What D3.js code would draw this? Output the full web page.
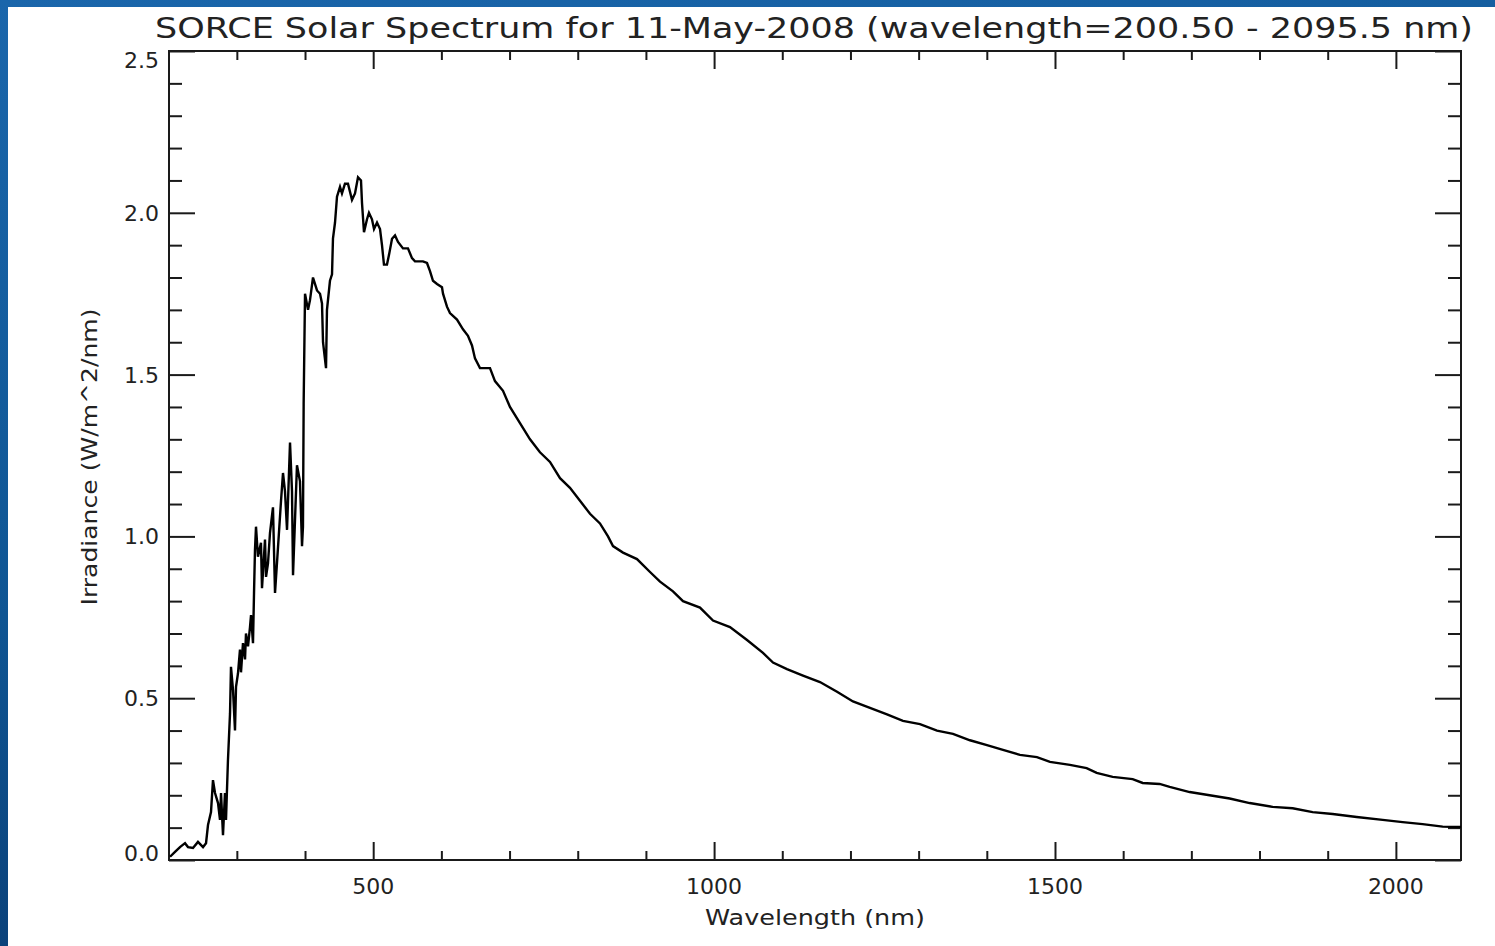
<!DOCTYPE html>
<html>
<head>
<meta charset="utf-8">
<script src="https://cdn.jsdelivr.net/npm/d3@7"></script>
<style>
  html, body { margin: 0; padding: 0; background: #0d5596; }
  #chart { width: 1495px; height: 946px; }
  text { font-family: "DejaVu Sans", sans-serif; fill: #222; }
</style>
</head>
<body>
<div id="chart"></div>
<script>
// spectrum (nm, W/m^2/nm)
const wavelength = [
  202.0, 209.3, 216.6, 224.0, 228.4, 235.7, 243.0, 250.4, 254.8, 257.7,
  262.1, 265.0, 268.0, 272.4, 275.3, 276.8, 279.7, 282.6, 284.1, 287.0,
  290.0, 291.4, 294.4, 297.3, 298.8, 301.7, 304.6, 306.1, 309.0, 312.0,
  313.4, 316.4, 319.3, 320.8, 323.7, 325.2, 326.6, 328.1, 331.0, 335.4,
  336.9, 341.3, 342.8, 345.7, 348.6, 353.0, 356.0, 360.4, 364.8, 367.7,
  370.6, 373.6, 378.0, 380.9, 382.4, 388.2, 392.6, 395.6, 397.0, 398.0,
  400.0, 404.4, 407.3, 411.7, 417.6, 422.0, 424.9, 426.4, 430.8, 432.2,
  436.6, 439.6, 441.0, 444.0, 446.9, 451.3, 454.2, 458.6, 463.0, 468.9,
  473.3, 477.7, 482.1, 483.6, 486.5, 490.9, 493.8, 498.2, 501.2, 505.6,
  510.0, 512.9, 515.8, 520.2, 523.2, 527.6, 532.0, 536.4, 543.7, 551.0,
  556.9, 561.3, 573.0, 578.9, 583.3, 587.7, 593.6, 600.9, 602.4, 608.2,
  612.6, 622.9, 631.7, 639.0, 644.9, 649.3, 656.6, 671.3, 678.6, 690.4,
  700.6, 715.3, 730.0, 744.6, 759.3, 774.0, 788.6, 803.3, 818.0, 832.6,
  844.4, 851.7, 866.4, 886.9, 906.0, 920.7, 939.7, 954.4, 979.3, 998.4,
  1023.3, 1048.3, 1071.7, 1086.4, 1106.9, 1130.4, 1155.3, 1180.3, 1203.7, 1228.6,
  1253.6, 1277.0, 1302.0, 1326.9, 1350.4, 1375.3, 1400.2, 1423.7, 1448.6, 1473.5,
  1492.6, 1521.9, 1546.4, 1561.1, 1584.6, 1613.9, 1628.6, 1653.5, 1668.2, 1697.5,
  1726.8, 1756.2, 1785.5, 1819.3, 1848.6, 1877.9, 1907.3, 1942.5, 1980.6, 2009.9,
  2039.2, 2068.6, 2095.5
];
const irradiance = [
  0.010, 0.025, 0.040, 0.052, 0.040, 0.037, 0.056, 0.040, 0.052, 0.108,
  0.148, 0.247, 0.207, 0.176, 0.124, 0.207, 0.077, 0.207, 0.124, 0.310,
  0.453, 0.597, 0.525, 0.400, 0.535, 0.577, 0.650, 0.580, 0.670, 0.620,
  0.700, 0.660, 0.720, 0.757, 0.670, 0.825, 0.958, 1.030, 0.937, 0.980,
  0.840, 0.990, 0.875, 0.917, 1.010, 1.090, 0.825, 0.967, 1.110, 1.196,
  1.140, 1.020, 1.290, 1.140, 0.880, 1.220, 1.170, 0.970, 1.030, 1.410,
  1.750, 1.700, 1.730, 1.800, 1.760, 1.750, 1.720, 1.600, 1.520, 1.700,
  1.790, 1.810, 1.920, 1.970, 2.050, 2.080, 2.060, 2.090, 2.090, 2.040,
  2.060, 2.110, 2.100, 2.030, 1.940, 1.980, 2.000, 1.980, 1.950, 1.970,
  1.950, 1.900, 1.840, 1.840, 1.870, 1.920, 1.930, 1.910, 1.890, 1.890,
  1.860, 1.850, 1.850, 1.845, 1.820, 1.790, 1.780, 1.770, 1.750, 1.710,
  1.690, 1.670, 1.640, 1.620, 1.590, 1.550, 1.520, 1.520, 1.480, 1.450,
  1.400, 1.350, 1.300, 1.260, 1.230, 1.180, 1.150, 1.110, 1.070, 1.040,
  1.000, 0.970, 0.950, 0.930, 0.890, 0.860, 0.830, 0.800, 0.780, 0.740,
  0.720, 0.680, 0.640, 0.610, 0.590, 0.570, 0.550, 0.520, 0.490, 0.470,
  0.450, 0.430, 0.420, 0.400, 0.390, 0.370, 0.355, 0.340, 0.325, 0.318,
  0.303, 0.294, 0.284, 0.269, 0.257, 0.250, 0.238, 0.235, 0.226, 0.210,
  0.200, 0.190, 0.176, 0.164, 0.160, 0.148, 0.142, 0.133, 0.124, 0.117,
  0.111, 0.103, 0.102
];

const xMajor = [500, 1000, 1500, 2000];
const xMinor = [300, 400, 600, 700, 800, 900, 1100, 1200, 1300, 1400, 1600, 1700, 1800, 1900];
const yMajor = [0.0, 0.5, 1.0, 1.5, 2.0, 2.5];
const yMinor = [0.1, 0.2, 0.3, 0.4, 0.6, 0.7, 0.8, 0.9, 1.1, 1.2, 1.3, 1.4, 1.6, 1.7, 1.8, 1.9, 2.1, 2.2, 2.3, 2.4];

const data = wavelength.map((w, i) => ({w: w, v: irradiance[i]}));

// set the dimensions and margins of the graph
const W = 1495, H = 946;
const margin = {top: 51, right: 34, bottom: 86, left: 169},
    width = W - margin.left - margin.right,
    height = H - margin.top - margin.bottom;

const root = d3.select("#chart")
  .append("svg")
    .attr("width", W)
    .attr("height", H);

// blue frame + white page
const grad = root.append("defs").append("linearGradient")
    .attr("id", "bg").attr("x1", 0).attr("y1", 0).attr("x2", 0.3).attr("y2", 1);
grad.append("stop").attr("offset", "0%").attr("stop-color", "#1a66ab");
grad.append("stop").attr("offset", "60%").attr("stop-color", "#0f5593");
grad.append("stop").attr("offset", "100%").attr("stop-color", "#0a3d74");
root.append("rect").attr("width", W).attr("height", H).attr("fill", "url(#bg)");
root.append("rect").attr("x", 8).attr("y", 7).attr("width", W - 8).attr("height", H - 7).attr("fill", "#ffffff");

const svg = root.append("g")
    .attr("transform", `translate(${margin.left},${margin.top})`);

const x = d3.scaleLinear()
  .domain([200.5, 2095.5])
  .range([0, width]);

const y = d3.scaleLinear()
  .domain([0, 2.5])
  .range([height, 0]);

const axisStyle = g => {
  g.select(".domain").remove();
  g.selectAll(".tick line").attr("stroke", "#1a1a1a").attr("stroke-width", 2);
  g.selectAll("text").remove();
};

// x ticks, bottom and top, pointing inward
svg.append("g").attr("transform", `translate(0,${height})`)
  .call(d3.axisBottom(x).tickValues(xMajor).tickSize(-18)).call(axisStyle);
svg.append("g").attr("transform", `translate(0,${height})`)
  .call(d3.axisBottom(x).tickValues(xMinor).tickSize(-9)).call(axisStyle);
svg.append("g")
  .call(d3.axisTop(x).tickValues(xMajor).tickSize(-18)).call(axisStyle);
svg.append("g")
  .call(d3.axisTop(x).tickValues(xMinor).tickSize(-9)).call(axisStyle);

// y ticks, left and right
svg.append("g")
  .call(d3.axisLeft(y).tickValues(yMajor).tickSize(-26)).call(axisStyle);
svg.append("g")
  .call(d3.axisLeft(y).tickValues(yMinor).tickSize(-13)).call(axisStyle);
svg.append("g").attr("transform", `translate(${width},0)`)
  .call(d3.axisRight(y).tickValues(yMajor).tickSize(-26)).call(axisStyle);
svg.append("g").attr("transform", `translate(${width},0)`)
  .call(d3.axisRight(y).tickValues(yMinor).tickSize(-13)).call(axisStyle);

// box
svg.append("rect")
  .attr("width", width).attr("height", height)
  .attr("fill", "none")
  .attr("stroke", "#1a1a1a")
  .attr("stroke-width", 2);

// tick labels
svg.selectAll(".xlab")
  .data(xMajor)
  .join("text")
    .attr("class", "xlab")
    .attr("x", d => x(d))
    .attr("y", height + 34)
    .attr("text-anchor", "middle")
    .attr("font-size", "22px")
    .text(d => d);

svg.selectAll(".ylab")
  .data(yMajor)
  .join("text")
    .attr("class", "ylab")
    .attr("x", -10)
    .attr("y", d => Math.min(height + 1, Math.max(17, y(d) + 8)))
    .attr("text-anchor", "end")
    .attr("font-size", "22px")
    .text(d => d.toFixed(1));

// spectrum line
const line = d3.line()
  .x(d => x(d.w))
  .y(d => y(d.v));

svg.append("path")
  .datum(data)
  .attr("d", line)
  .attr("fill", "none")
  .attr("stroke", "#000")
  .attr("stroke-width", 2.4)
  .attr("stroke-linejoin", "miter");

// titles
root.append("text")
  .attr("x", 814)
  .attr("y", 38)
  .attr("text-anchor", "middle")
  .attr("font-size", "29px")
  .attr("textLength", 1318)
  .attr("lengthAdjust", "spacingAndGlyphs")
  .text("SORCE Solar Spectrum for 11-May-2008 (wavelength=200.50 - 2095.5 nm)");

root.append("text")
  .attr("x", 815)
  .attr("y", 925)
  .attr("text-anchor", "middle")
  .attr("font-size", "22px")
  .attr("textLength", 220)
  .attr("lengthAdjust", "spacingAndGlyphs")
  .text("Wavelength (nm)");

root.append("text")
  .attr("transform", "translate(97,457) rotate(-90)")
  .attr("text-anchor", "middle")
  .attr("font-size", "22px")
  .attr("textLength", 297)
  .attr("lengthAdjust", "spacingAndGlyphs")
  .text("Irradiance (W/m^2/nm)");
</script>
</body>
</html>
